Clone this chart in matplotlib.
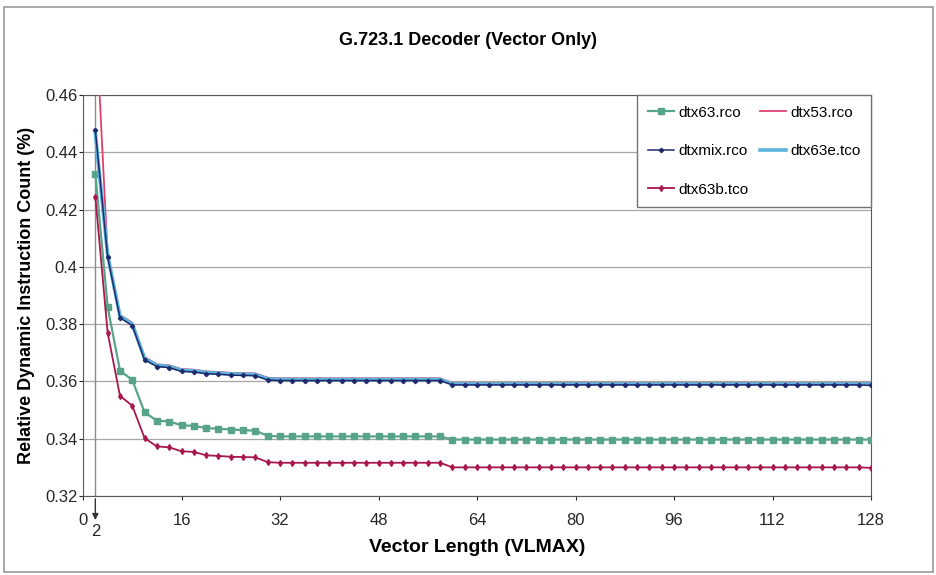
import numpy as np
import matplotlib.pyplot as plt
from matplotlib.ticker import FuncFormatter
from matplotlib.patches import Rectangle

plt.rcParams['font.family'] = ['Liberation Sans', 'DejaVu Sans']

# vector length 2..128, step 2
vlmax = np.arange(2, 129, 2)

dtx63_rco = [0.4325, 0.3860, 0.3638, 0.3605, 0.3492, 0.3463, 0.3460, 0.3447,
             0.3445, 0.3437, 0.3435, 0.3432, 0.3430, 0.3428, 0.3410, 0.3408,
             0.3408, 0.3408, 0.3408, 0.3408, 0.3408, 0.3408, 0.3408, 0.3408,
             0.3408, 0.3408, 0.3408, 0.3408, 0.3408, 0.3397, 0.3397, 0.3397,
             0.3397, 0.3397, 0.3397, 0.3397, 0.3397, 0.3397, 0.3397, 0.3397,
             0.3397, 0.3397, 0.3397, 0.3397, 0.3397, 0.3397, 0.3397, 0.3397,
             0.3397, 0.3397, 0.3397, 0.3397, 0.3397, 0.3397, 0.3397, 0.3397,
             0.3397, 0.3397, 0.3397, 0.3397, 0.3397, 0.3397, 0.3397, 0.3397]

dtx53_rco = [0.4900, 0.4040, 0.3832, 0.3805, 0.3685, 0.3660, 0.3656, 0.3643,
             0.3641, 0.3635, 0.3633, 0.3630, 0.3629, 0.3628, 0.3613, 0.3611,
             0.3611, 0.3611, 0.3611, 0.3611, 0.3611, 0.3611, 0.3611, 0.3611,
             0.3611, 0.3611, 0.3611, 0.3611, 0.3611, 0.3595, 0.3595, 0.3595,
             0.3595, 0.3595, 0.3595, 0.3595, 0.3595, 0.3595, 0.3595, 0.3595,
             0.3595, 0.3595, 0.3595, 0.3595, 0.3595, 0.3595, 0.3595, 0.3595,
             0.3595, 0.3595, 0.3595, 0.3595, 0.3595, 0.3595, 0.3595, 0.3595,
             0.3595, 0.3595, 0.3595, 0.3595, 0.3595, 0.3595, 0.3595, 0.3595]

dtxmix_rco = [0.4478, 0.4035, 0.3822, 0.3795, 0.3675, 0.3652, 0.3648, 0.3635,
              0.3633, 0.3627, 0.3625, 0.3622, 0.3621, 0.3620, 0.3605, 0.3603,
              0.3603, 0.3603, 0.3603, 0.3603, 0.3603, 0.3603, 0.3603, 0.3603,
              0.3603, 0.3603, 0.3603, 0.3603, 0.3603, 0.3588, 0.3588, 0.3588,
              0.3588, 0.3588, 0.3588, 0.3588, 0.3588, 0.3588, 0.3588, 0.3588,
              0.3588, 0.3588, 0.3588, 0.3588, 0.3588, 0.3588, 0.3588, 0.3588,
              0.3588, 0.3588, 0.3588, 0.3588, 0.3588, 0.3588, 0.3588, 0.3588,
              0.3588, 0.3588, 0.3588, 0.3588, 0.3588, 0.3588, 0.3588, 0.3586]

dtx63e_tco = [0.4465, 0.4042, 0.3828, 0.3800, 0.3680, 0.3656, 0.3652, 0.3639,
              0.3637, 0.3631, 0.3629, 0.3626, 0.3625, 0.3624, 0.3609, 0.3607,
              0.3607, 0.3607, 0.3607, 0.3607, 0.3607, 0.3607, 0.3607, 0.3607,
              0.3607, 0.3607, 0.3607, 0.3607, 0.3607, 0.3591, 0.3591, 0.3591,
              0.3591, 0.3591, 0.3591, 0.3591, 0.3591, 0.3591, 0.3591, 0.3591,
              0.3591, 0.3591, 0.3591, 0.3591, 0.3591, 0.3591, 0.3591, 0.3591,
              0.3591, 0.3591, 0.3591, 0.3591, 0.3591, 0.3591, 0.3591, 0.3591,
              0.3591, 0.3591, 0.3591, 0.3591, 0.3591, 0.3591, 0.3591, 0.3591]

dtx63b_tco = [0.4245, 0.3770, 0.3550, 0.3515, 0.3402, 0.3373, 0.3370, 0.3356,
              0.3354, 0.3342, 0.3340, 0.3337, 0.3336, 0.3335, 0.3318, 0.3316,
              0.3316, 0.3316, 0.3316, 0.3316, 0.3316, 0.3316, 0.3316, 0.3316,
              0.3316, 0.3316, 0.3316, 0.3316, 0.3316, 0.3300, 0.3300, 0.3300,
              0.3300, 0.3300, 0.3300, 0.3300, 0.3300, 0.3300, 0.3300, 0.3300,
              0.3300, 0.3300, 0.3300, 0.3300, 0.3300, 0.3300, 0.3300, 0.3300,
              0.3300, 0.3300, 0.3300, 0.3300, 0.3300, 0.3300, 0.3300, 0.3300,
              0.3300, 0.3300, 0.3300, 0.3300, 0.3300, 0.3300, 0.3300, 0.3298]

x_ticks = [0, 16, 32, 48, 64, 80, 96, 112, 128]
y_ticks = [0.32, 0.34, 0.36, 0.38, 0.40, 0.42, 0.44, 0.46]

fig = plt.figure(figsize=(9.37, 5.75), dpi=100)
ax = fig.add_axes([0.0886, 0.1374, 0.841, 0.6974])

# marco gris de toda la figura
fig.patches.append(Rectangle((0.004, 0.006), 0.992, 0.982, transform=fig.transFigure,
                             fill=False, edgecolor='0.6', lw=1.2))

ax.axvline(2, color='0.55', lw=1, zorder=1)

l1, = ax.plot(vlmax, dtx63_rco, color='#58a488', lw=1.6, marker='s', ms=4.5,
              mec='#58a488', label='dtx63.rco', zorder=3)
l2, = ax.plot(vlmax, dtx53_rco, color='#e0406e', lw=1.3, label='dtx53.rco', zorder=3)
l4, = ax.plot(vlmax, dtx63e_tco, color='#5ab4dc', lw=2.6, label='dtx63e.tco', zorder=4)
l3, = ax.plot(vlmax, dtxmix_rco, color='#1f2a6e', lw=1.1, marker='D', ms=2.2,
              label='dtxmix.rco', zorder=5)
l5, = ax.plot(vlmax, dtx63b_tco, color='#a8174e', lw=1.3, marker='d', ms=3,
              label='dtx63b.tco', zorder=3)

ax.set_xlim(0, 128)
ax.set_ylim(0.32, 0.46)
ax.set_xticks(x_ticks)
ax.set_yticks(y_ticks)
ax.yaxis.set_major_formatter(FuncFormatter(lambda v, p: '%g' % round(v, 2)))
ax.grid(axis='y', color='0.65', lw=0.9)
ax.set_axisbelow(True)
for s in ax.spines.values():
    s.set_color('0.35')
ax.tick_params(labelsize=12, colors='0.15', length=3)
ax.tick_params(axis='x', pad=9)
ax.tick_params(axis='y', pad=1)

# etiqueta del 2 con flecha
ax.annotate('', xy=(2, -0.067), xytext=(2, 0.0), xycoords=('data', 'axes fraction'),
            textcoords=('data', 'axes fraction'),
            arrowprops=dict(arrowstyle='-|>', color='0.2', lw=1, mutation_scale=9))
ax.text(2, -0.07, '2', transform=ax.get_xaxis_transform(), ha='center', va='top',
        fontsize=12, color='0.15')

ax.set_xlabel('Vector Length (VLMAX)', fontsize=14, fontweight='bold', labelpad=8)
ax.set_ylabel('Relative Dynamic Instruction Count (%)', fontsize=13, fontweight='bold',
              labelpad=7)
fig.suptitle('G.723.1 Decoder (Vector Only)', fontsize=13, fontweight='bold', y=0.945)

leg = ax.legend(handles=[l1, l3, l5, l2, l4], loc='upper right', ncol=2, fontsize=11,
                frameon=True, fancybox=False, edgecolor='0.45', framealpha=1,
                borderaxespad=0, labelspacing=1.6, borderpad=0.7, handlelength=1.7,
                columnspacing=0.7, handletextpad=0.3)
leg.get_frame().set_linewidth(1.0)
leg.set_zorder(10)

fig.savefig('out.png', dpi=100)
